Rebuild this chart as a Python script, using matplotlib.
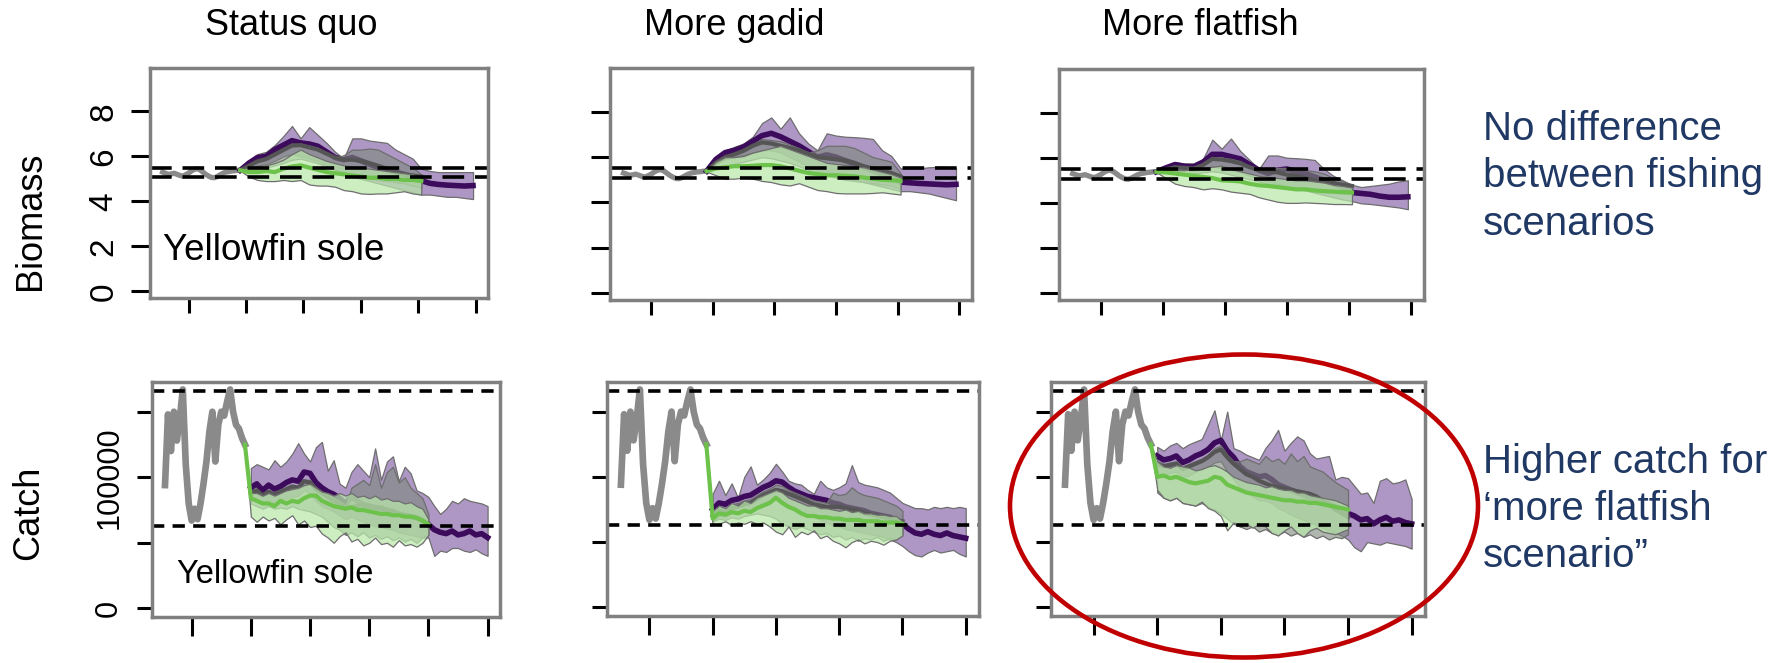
import numpy as np
import matplotlib
matplotlib.use("Agg")
import matplotlib.pyplot as plt
from matplotlib.patches import Ellipse
from matplotlib.colors import to_rgba
from matplotlib import font_manager

W, H, DPI = 1781, 663, 100
plt.rcParams['font.family'] = ['Liberation Sans', 'DejaVu Sans']

# ---------------------------------------------------------------- labels
COLUMN_TITLES = ["Status quo", "More gadid", "More flatfish"]
ROW_LABELS = ["Biomass", "Catch"]
SPECIES = "Yellowfin sole"
NOTE_BIOMASS = ["No difference", "between fishing", "scenarios"]
NOTE_CATCH = ["Higher catch for", "\u2018more flatfish", "scenario\u201d"]

# ---------------------------------------------------------------- axes
X_TICKS = [2000, 2020, 2040, 2060, 2080, 2100]
BIO_TICKS = [0, 2, 4, 6, 8]
BIO_TICK_LABELS = ["0", "2", "4", "6", "8"]
CATCH_TICKS = [0, 50000, 100000, 150000]
CATCH_TICK_LABELS = ["0", "", "100000", ""]
BIO_REF = [5.5, 5.08]
CATCH_REF = [166000, 63000]

# ---------------------------------------------------------------- years
HIST_YEARS = list(range(1991, 2019))
BIO_YEARS = list(range(2018, 2100, 3))          # purple runs to 2099
BIO_YEARS_SHORT = BIO_YEARS[:22]                 # gray / green end 2081
CATCH_YEARS_GREEN = list(range(2018, 2081, 2))
CATCH_YEARS_GRAY = list(range(2020, 2081, 2))
CATCH_YEARS_PURPLE = list(range(2020, 2101, 2))

# ---------------------------------------------------------------- history
BIO_HIST = [5.30, 5.25, 5.20, 5.22, 5.25, 5.20, 5.15, 5.12, 5.18, 5.25, 5.35, 5.42, 5.45, 5.40,
            5.30, 5.20, 5.12, 5.06, 5.05, 5.10, 5.18, 5.25, 5.30, 5.32, 5.35, 5.36, 5.38, 5.38]
CATCH_HIST_KT = [94, 148, 120, 150, 128, 145, 167, 110, 80, 67, 76, 68, 80, 95,
                 112, 135, 150, 112, 140, 150, 147, 158, 167, 150, 140, 137, 130, 125]

# ---------------------------------------------------------------- biomass: status quo
BIO_SQ_PURPLE_MID = [5.38, 5.70, 5.95, 6.00, 6.30, 6.50, 6.70, 6.60, 6.55, 6.45, 6.20, 5.95, 5.85, 5.95,
                     5.80, 5.65, 5.50, 5.40, 5.30, 5.20, 5.10, 4.92, 4.80, 4.75, 4.72, 4.70, 4.68, 4.70]
BIO_SQ_PURPLE_HI = [5.40, 5.80, 6.10, 6.20, 6.50, 6.90, 7.35, 6.80, 7.30, 6.95, 6.60, 6.20, 5.90, 6.80,
                    6.80, 6.70, 6.65, 6.60, 6.30, 6.10, 5.90, 5.45, 5.35, 5.30, 5.30, 5.30, 5.30, 5.30]
BIO_SQ_PURPLE_LO = [5.36, 5.50, 5.60, 5.65, 5.80, 6.00, 6.10, 6.00, 5.90, 5.80, 5.60, 5.40, 5.20, 5.10,
                    5.00, 4.90, 4.80, 4.70, 4.60, 4.50, 4.40, 4.30, 4.30, 4.25, 4.20, 4.20, 4.15, 4.10]
BIO_SQ_GRAY_MID = [5.38, 5.58, 5.78, 5.88, 6.08, 6.28, 6.48, 6.50, 6.40, 6.30, 6.12, 5.95, 5.85, 5.85,
                   5.80, 5.70, 5.58, 5.45, 5.30, 5.20, 5.15, 5.10]
BIO_SQ_GRAY_HI = [5.40, 5.62, 5.82, 5.92, 6.12, 6.32, 6.55, 6.55, 6.48, 6.38, 6.15, 5.95, 6.05, 6.30,
                  6.30, 6.35, 6.30, 6.10, 5.90, 5.70, 5.50, 5.20]
BIO_SQ_GRAY_LO = [5.36, 5.40, 5.45, 5.50, 5.60, 5.70, 5.85, 5.90, 5.80, 5.70, 5.55, 5.40, 5.30, 5.20,
                  5.10, 5.00, 4.95, 4.90, 4.85, 4.80, 4.70, 4.60]
BIO_SQ_GREEN_MID = [5.38, 5.30, 5.30, 5.35, 5.30, 5.45, 5.55, 5.60, 5.50, 5.40, 5.30, 5.25, 5.20, 5.15,
                    5.10, 5.05, 5.05, 5.00, 5.00, 4.95, 4.95, 4.90]
BIO_SQ_GREEN_HI = [5.40, 5.50, 5.55, 5.60, 5.70, 5.85, 6.10, 6.30, 6.10, 5.95, 5.80, 5.70, 5.60, 5.55,
                   5.50, 5.45, 5.40, 5.35, 5.30, 5.25, 5.20, 5.00]
BIO_SQ_GREEN_LO = [5.36, 5.10, 4.95, 4.90, 4.90, 4.95, 4.90, 4.95, 4.75, 4.70, 4.70, 4.65, 4.50, 4.45,
                   4.35, 4.33, 4.35, 4.35, 4.40, 4.45, 4.35, 4.30]

# ---------------------------------------------------------------- biomass: more gadid
BIO_GAD_PURPLE_MID = [5.38, 5.90, 6.20, 6.30, 6.45, 6.70, 6.95, 7.05, 6.90, 6.70, 6.50, 6.25, 6.00, 6.10,
                      6.00, 5.85, 5.70, 5.55, 5.40, 5.25, 5.10, 4.90, 4.87, 4.84, 4.82, 4.80, 4.78, 4.80]
BIO_GAD_PURPLE_HI = [5.40, 6.00, 6.30, 6.45, 6.60, 6.90, 7.50, 7.75, 7.25, 7.75, 7.05, 6.60, 6.30, 7.05,
                     6.95, 6.90, 6.88, 6.85, 6.80, 6.30, 6.05, 5.50, 5.50, 5.50, 5.55, 5.57, 5.57, 5.50]
BIO_GAD_PURPLE_LO = [5.36, 5.70, 5.90, 6.00, 6.10, 6.20, 6.30, 6.30, 6.20, 6.00, 5.80, 5.60, 5.40, 5.30,
                     5.20, 5.10, 5.00, 4.90, 4.80, 4.70, 4.60, 4.50, 4.50, 4.45, 4.40, 4.30, 4.20, 4.10]
BIO_GAD_GRAY_MID = [5.38, 5.75, 6.00, 6.12, 6.28, 6.50, 6.65, 6.60, 6.50, 6.40, 6.30, 6.15, 6.00, 5.95,
                    5.90, 5.85, 5.75, 5.60, 5.50, 5.40, 5.30, 5.15]
BIO_GAD_GRAY_HI = [5.40, 5.80, 6.05, 6.18, 6.32, 6.55, 6.80, 6.75, 6.70, 6.55, 6.40, 6.20, 6.30, 6.50,
                   6.50, 6.50, 6.40, 6.20, 6.00, 5.90, 5.80, 5.30]
BIO_GAD_GRAY_LO = [5.36, 5.50, 5.60, 5.70, 5.80, 5.90, 6.00, 5.95, 5.85, 5.75, 5.60, 5.45, 5.30, 5.20,
                   5.10, 5.00, 4.95, 4.90, 4.85, 4.80, 4.75, 4.60]
BIO_GAD_GREEN_MID = [5.38, 5.50, 5.55, 5.60, 5.60, 5.62, 5.65, 5.65, 5.60, 5.50, 5.40, 5.30, 5.25, 5.20,
                     5.20, 5.18, 5.15, 5.10, 5.05, 5.00, 4.98, 4.95]
BIO_GAD_GREEN_HI = [5.40, 5.80, 6.00, 6.00, 6.05, 6.20, 6.30, 6.40, 6.50, 6.35, 6.20, 6.05, 5.90, 5.75,
                    5.70, 5.65, 5.60, 5.55, 5.45, 5.35, 5.25, 5.10]
BIO_GAD_GREEN_LO = [5.36, 5.20, 5.05, 5.05, 5.10, 5.05, 4.95, 4.90, 4.80, 4.75, 4.85, 4.70, 4.55, 4.50,
                    4.42, 4.40, 4.40, 4.40, 4.42, 4.45, 4.40, 4.35]

# ---------------------------------------------------------------- biomass: more flatfish
BIO_FLAT_PURPLE_MID = [5.38, 5.55, 5.70, 5.62, 5.60, 5.80, 6.15, 6.15, 6.05, 5.95, 5.70, 5.45, 5.30, 5.45,
                       5.50, 5.40, 5.30, 5.15, 5.00, 4.85, 4.70, 4.46, 4.42, 4.38, 4.30, 4.25, 4.25, 4.27]
BIO_FLAT_PURPLE_HI = [5.40, 5.60, 5.80, 5.75, 5.75, 5.95, 6.80, 6.40, 6.85, 6.30, 5.90, 5.50, 6.10, 6.10,
                      6.00, 5.98, 5.95, 5.90, 5.50, 5.20, 5.00, 4.80, 4.70, 4.75, 4.80, 4.85, 4.95, 5.00]
BIO_FLAT_PURPLE_LO = [5.36, 5.45, 5.50, 5.45, 5.40, 5.50, 5.60, 5.55, 5.45, 5.35, 5.20, 5.05, 4.95, 4.85,
                      4.75, 4.65, 4.55, 4.45, 4.35, 4.25, 4.15, 4.08, 3.98, 3.95, 3.90, 3.85, 3.80, 3.72]
BIO_FLAT_GRAY_MID = [5.38, 5.48, 5.58, 5.55, 5.52, 5.68, 5.95, 5.92, 5.85, 5.75, 5.58, 5.45, 5.40, 5.35,
                     5.25, 5.20, 5.10, 5.00, 4.95, 4.88, 4.80, 4.75]
BIO_FLAT_GRAY_HI = [5.40, 5.50, 5.62, 5.58, 5.55, 5.72, 6.00, 6.00, 5.95, 5.85, 5.62, 5.48, 5.45, 5.55,
                    5.55, 5.50, 5.45, 5.40, 5.30, 5.10, 4.95, 4.80]
BIO_FLAT_GRAY_LO = [5.36, 5.40, 5.35, 5.30, 5.30, 5.35, 5.40, 5.35, 5.25, 5.15, 5.05, 4.95, 4.85, 4.80,
                    4.70, 4.65, 4.60, 4.55, 4.50, 4.45, 4.40, 4.40]
BIO_FLAT_GREEN_MID = [5.38, 5.35, 5.30, 5.25, 5.20, 5.15, 5.10, 5.00, 4.98, 4.95, 4.85, 4.78, 4.75, 4.70,
                      4.65, 4.60, 4.60, 4.55, 4.52, 4.50, 4.48, 4.46]
BIO_FLAT_GREEN_HI = [5.40, 5.45, 5.45, 5.45, 5.50, 5.55, 5.60, 5.65, 5.50, 5.40, 5.30, 5.20, 5.15, 5.10,
                     5.05, 5.00, 5.00, 4.95, 4.90, 4.80, 4.75, 4.68]
BIO_FLAT_GREEN_LO = [5.36, 5.10, 4.85, 4.75, 4.70, 4.60, 4.65, 4.60, 4.50, 4.45, 4.40, 4.25, 4.15, 4.05,
                     4.00, 4.00, 4.02, 4.00, 3.98, 3.95, 3.95, 3.94]

# ---------------------------------------------------------------- catch (thousand t): status quo
CATCH_SQ_PURPLE_MID = [92, 95, 90, 94, 91, 93, 96, 98, 97, 104, 103, 96, 92, 89, 87, 84, 80, 85, 82, 79, 78,
                       77, 76, 75, 74, 72, 71, 70, 69, 67, 64, 60, 58, 57, 59, 56, 57, 59, 56, 57, 54]
CATCH_SQ_PURPLE_HI = [107, 110, 108, 106, 113, 108, 112, 118, 126, 118, 112, 123, 127, 105, 113, 95, 92, 104,
                      110, 105, 100, 122, 98, 112, 116, 97, 108, 103, 90, 88, 85, 78, 72, 76, 82, 80, 84,
                      82, 81, 80, 78]
CATCH_SQ_PURPLE_LO = [82, 84, 80, 83, 80, 82, 84, 85, 86, 90, 88, 82, 78, 76, 74, 71, 68, 70, 68, 66, 64,
                      63, 62, 61, 60, 58, 57, 56, 55, 54, 54, 40, 44, 43, 46, 46, 44, 43, 45, 42, 40]
CATCH_SQ_GRAY_MID = [88, 90, 86, 89, 87, 89, 91, 93, 92, 97, 96, 91, 88, 85, 82, 80, 78, 77, 78, 79, 78,
                     77, 77, 75, 73, 72, 71, 70, 69, 67, 64]
CATCH_SQ_GRAY_HI = [88, 90, 86, 90, 88, 90, 92, 94, 93, 98, 98, 92, 88, 86, 84, 82, 78, 92, 95, 98, 94,
                    110, 92, 104, 108, 96, 100, 92, 88, 84, 72]
CATCH_SQ_GRAY_LO = [80, 78, 76, 78, 76, 77, 76, 78, 76, 75, 74, 72, 70, 66, 62, 60, 56, 58, 55, 58, 54,
                    56, 53, 55, 52, 54, 51, 53, 50, 54, 56]
CATCH_SQ_GREEN_MID = [125, 84, 82, 80, 80, 78, 82, 80, 82, 81, 84, 86, 86, 82, 80, 78, 77, 76, 77, 75, 75,
                      74, 73, 72, 72, 71, 71, 70, 70, 69, 67, 64]
CATCH_SQ_GREEN_HI = [125, 88, 88, 86, 88, 86, 88, 90, 91, 92, 94, 95, 92, 89, 88, 86, 88, 86, 88, 85, 86,
                     84, 86, 83, 84, 82, 82, 80, 81, 78, 76, 68]
CATCH_SQ_GREEN_LO = [125, 70, 66, 70, 67, 69, 64, 68, 71, 64, 67, 62, 63, 57, 54, 50, 55, 58, 51, 53, 48,
                     50, 54, 49, 50, 47, 52, 48, 49, 47, 50, 56]

# ---------------------------------------------------------------- catch (thousand t): more gadid
CATCH_GAD_PURPLE_MID = [75, 80, 79, 82, 83, 85, 86, 89, 92, 94, 97, 96, 92, 89, 87, 85, 84, 83, 82, 80, 79,
                        77, 76, 75, 74, 72, 71, 70, 69, 67, 64, 60, 57, 56, 58, 56, 55, 57, 55, 54, 53]
CATCH_GAD_PURPLE_HI = [87, 97, 86, 95, 84, 100, 108, 94, 98, 103, 110, 104, 97, 95, 94, 90, 87, 97, 92, 90,
                       92, 95, 109, 96, 94, 93, 92, 90, 88, 84, 80, 78, 76, 76, 75, 77, 76, 77, 76, 77, 76]
CATCH_GAD_PURPLE_LO = [66, 70, 69, 72, 73, 74, 75, 78, 80, 82, 84, 82, 78, 75, 73, 71, 69, 67, 65, 63, 62,
                       60, 59, 58, 57, 56, 55, 54, 52, 50, 47, 43, 40, 39, 42, 44, 42, 43, 44, 41, 39]
CATCH_GAD_GRAY_MID = [70, 74, 73, 76, 77, 79, 80, 83, 86, 88, 90, 89, 87, 85, 83, 81, 79, 78, 77, 77, 77,
                      76, 75, 74, 72, 71, 70, 69, 68, 67, 66]
CATCH_GAD_GRAY_HI = [72, 77, 76, 79, 80, 82, 83, 86, 89, 91, 94, 93, 90, 88, 86, 84, 82, 81, 80, 88, 86,
                     87, 92, 88, 86, 85, 84, 82, 80, 78, 74]
CATCH_GAD_GRAY_LO = [66, 68, 67, 69, 68, 70, 71, 72, 71, 70, 68, 64, 62, 60, 62, 60, 58, 56, 57, 54, 55,
                     52, 54, 51, 53, 52, 54, 51, 53, 52, 56]
CATCH_GAD_GREEN_MID = [125, 68, 72, 71, 73, 72, 74, 73, 76, 78, 80, 84, 80, 77, 75, 72, 70, 70, 69, 69, 68,
                       68, 67, 67, 67, 66, 66, 66, 65, 65, 65, 64]
CATCH_GAD_GREEN_HI = [125, 74, 78, 76, 80, 78, 82, 80, 84, 86, 88, 90, 88, 84, 82, 80, 78, 78, 76, 76, 75,
                      74, 75, 73, 74, 72, 72, 71, 71, 70, 70, 66]
CATCH_GAD_GREEN_LO = [125, 63, 64, 66, 63, 65, 64, 66, 64, 65, 62, 58, 56, 62, 54, 58, 56, 59, 53, 55, 51,
                      49, 46, 50, 52, 49, 51, 50, 48, 51, 52, 55]

# ---------------------------------------------------------------- catch (thousand t): more flatfish
CATCH_FLAT_PURPLE_MID = [116, 113, 114, 116, 111, 113, 116, 118, 121, 126, 128, 120, 115, 108, 104, 102, 100,
                         101, 98, 94, 92, 90, 88, 86, 84, 83, 81, 79, 77, 75, 72, 70, 67, 68, 64, 67, 69,
                         66, 67, 65, 64]
CATCH_FLAT_PURPLE_HI = [123, 120, 124, 126, 122, 125, 127, 129, 140, 151, 128, 150, 122, 120, 117, 115, 113,
                        122, 128, 136, 120, 126, 131, 128, 118, 114, 115, 116, 98, 100, 99, 93, 87, 88, 80,
                        97, 99, 95, 96, 98, 83]
CATCH_FLAT_PURPLE_LO = [104, 102, 103, 104, 100, 101, 104, 106, 108, 111, 112, 104, 98, 92, 88, 85, 82, 82,
                        80, 76, 74, 71, 69, 67, 65, 63, 61, 59, 57, 55, 52, 46, 43, 50, 49, 48, 50, 49,
                        48, 47, 45]
CATCH_FLAT_GRAY_MID = [110, 108, 109, 110, 106, 108, 110, 112, 115, 119, 121, 115, 110, 106, 102, 100, 97,
                       95, 93, 92, 91, 90, 89, 88, 87, 85, 82, 79, 75, 72, 69]
CATCH_FLAT_GRAY_HI = [112, 110, 111, 112, 108, 110, 112, 114, 117, 122, 124, 117, 112, 112, 114, 112, 110,
                      116, 112, 114, 110, 118, 112, 116, 108, 106, 104, 100, 96, 93, 90]
CATCH_FLAT_GRAY_LO = [88, 84, 82, 84, 80, 79, 78, 80, 77, 75, 72, 68, 64, 62, 60, 62, 58, 60, 57, 56, 58,
                      55, 57, 54, 56, 53, 55, 52, 54, 53, 56]
CATCH_FLAT_GREEN_MID = [125, 100, 101, 99, 100, 98, 96, 95, 96, 97, 100, 99, 94, 92, 90, 88, 87, 86, 85, 84,
                        83, 82, 82, 81, 81, 80, 80, 79, 78, 77, 76, 75]
CATCH_FLAT_GREEN_HI = [125, 112, 108, 107, 109, 108, 107, 105, 106, 108, 109, 107, 104, 100, 98, 96, 95, 94,
                       92, 93, 91, 90, 90, 88, 88, 86, 85, 84, 83, 82, 80, 78]
CATCH_FLAT_GREEN_LO = [125, 90, 84, 82, 84, 80, 79, 78, 81, 76, 74, 70, 59, 65, 62, 64, 61, 64, 62, 57, 55,
                       59, 62, 57, 54, 59, 61, 58, 57, 56, 58, 60]

# ---------------------------------------------------------------- styling
XLIM = (1986.6, 2104.2)
BIO_YLIM = (-0.3, 9.93)
CATCH_YLIM = (-6650, 172700)
FRAME_C = "#808080"
HIST_C = "#8a8a8a"
PURPLE_FILL = to_rgba("#9a7db7", 0.8)
GRAY_FILL = to_rgba("#7f8a7d", 0.62)
GREEN_FILL = to_rgba("#b9e8aa", 0.72)
EDGE_C = "#6e6e6e"
PURPLE_LINE = "#3c0b5b"
GRAY_LINE = "#555555"
GREEN_LINE = "#6cc24a"
NOTE_C = "#203864"
RING_C = "#C00000"

fig = plt.figure(figsize=(W / DPI, H / DPI), dpi=DPI)
fig.patch.set_facecolor("white")


def fx(x):
    return x / W


def fy(y):
    return 1 - y / H


def px_axes(left, top, right, bottom):
    return fig.add_axes([fx(left), fy(bottom), (right - left) / W, (bottom - top) / H])


def kt(values):
    return np.asarray(values, dtype=float) * 1000.0


def draw_panel(ax, hist, purple, purple_x, gray, gray_x, green, green_x, refs, dash, hist_lw):
    ax.plot(HIST_YEARS, hist, color=HIST_C, lw=hist_lw, solid_joinstyle="round", zorder=3)
    mid, lo, hi = purple
    ax.fill_between(purple_x, lo, hi, facecolor=PURPLE_FILL, edgecolor=EDGE_C, lw=0.9, zorder=4)
    ax.plot(purple_x, mid, color=PURPLE_LINE, lw=4.0, solid_joinstyle="round", zorder=5)
    mid, lo, hi = gray
    ax.fill_between(gray_x, lo, hi, facecolor=GRAY_FILL, edgecolor=EDGE_C, lw=0.9, zorder=6)
    ax.plot(gray_x, mid, color=GRAY_LINE, lw=3.0, solid_joinstyle="round", zorder=7)
    mid, lo, hi = green
    ax.fill_between(green_x, lo, hi, facecolor=GREEN_FILL, edgecolor=EDGE_C, lw=0.9, zorder=8)
    ax.plot(green_x, mid, color=GREEN_LINE, lw=3.0, solid_joinstyle="round", zorder=9)
    for r in refs:
        ax.axhline(r, color="black", lw=2.6, linestyle=(0, dash), zorder=10)


def style(ax, ylim, yticks, ylabels, ylen, xlen, lsize, lpad):
    ax.set_xlim(XLIM)
    ax.set_ylim(ylim)
    ax.set_xticks(X_TICKS)
    ax.set_xticklabels([])
    ax.set_yticks(yticks)
    if ylabels is None:
        ax.set_yticklabels([])
    else:
        ax.set_yticklabels(ylabels, rotation=90, va="center", fontsize=lsize)
    for sp in ax.spines.values():
        sp.set_color(FRAME_C)
        sp.set_linewidth(2.5)
        sp.set_zorder(12)
    ax.tick_params(axis="y", length=ylen, width=2.2, color="black", pad=lpad, direction="out")
    ax.tick_params(axis="x", length=xlen, width=2.2, color="black", direction="out")


bio_boxes = [(150, 68, 488, 298), (610, 68, 972, 300), (1059, 69, 1424, 300)]
catch_boxes = [(152, 382, 500, 617), (607, 382, 979, 616), (1051, 382, 1425, 616)]

bio_sets = [
    ((BIO_SQ_PURPLE_MID, BIO_SQ_PURPLE_LO, BIO_SQ_PURPLE_HI),
     (BIO_SQ_GRAY_MID, BIO_SQ_GRAY_LO, BIO_SQ_GRAY_HI),
     (BIO_SQ_GREEN_MID, BIO_SQ_GREEN_LO, BIO_SQ_GREEN_HI)),
    ((BIO_GAD_PURPLE_MID, BIO_GAD_PURPLE_LO, BIO_GAD_PURPLE_HI),
     (BIO_GAD_GRAY_MID, BIO_GAD_GRAY_LO, BIO_GAD_GRAY_HI),
     (BIO_GAD_GREEN_MID, BIO_GAD_GREEN_LO, BIO_GAD_GREEN_HI)),
    ((BIO_FLAT_PURPLE_MID, BIO_FLAT_PURPLE_LO, BIO_FLAT_PURPLE_HI),
     (BIO_FLAT_GRAY_MID, BIO_FLAT_GRAY_LO, BIO_FLAT_GRAY_HI),
     (BIO_FLAT_GREEN_MID, BIO_FLAT_GREEN_LO, BIO_FLAT_GREEN_HI)),
]
catch_sets = [
    ((CATCH_SQ_PURPLE_MID, CATCH_SQ_PURPLE_LO, CATCH_SQ_PURPLE_HI),
     (CATCH_SQ_GRAY_MID, CATCH_SQ_GRAY_LO, CATCH_SQ_GRAY_HI),
     (CATCH_SQ_GREEN_MID, CATCH_SQ_GREEN_LO, CATCH_SQ_GREEN_HI)),
    ((CATCH_GAD_PURPLE_MID, CATCH_GAD_PURPLE_LO, CATCH_GAD_PURPLE_HI),
     (CATCH_GAD_GRAY_MID, CATCH_GAD_GRAY_LO, CATCH_GAD_GRAY_HI),
     (CATCH_GAD_GREEN_MID, CATCH_GAD_GREEN_LO, CATCH_GAD_GREEN_HI)),
    ((CATCH_FLAT_PURPLE_MID, CATCH_FLAT_PURPLE_LO, CATCH_FLAT_PURPLE_HI),
     (CATCH_FLAT_GRAY_MID, CATCH_FLAT_GRAY_LO, CATCH_FLAT_GRAY_HI),
     (CATCH_FLAT_GREEN_MID, CATCH_FLAT_GREEN_LO, CATCH_FLAT_GREEN_HI)),
]

for i in range(3):
    ax = px_axes(*bio_boxes[i])
    pur, gry, grn = bio_sets[i]
    draw_panel(ax, BIO_HIST, pur, BIO_YEARS, gry, BIO_YEARS_SHORT, grn, BIO_YEARS_SHORT,
               BIO_REF, (6.0, 3.0), 3.8)
    style(ax, BIO_YLIM, BIO_TICKS, BIO_TICK_LABELS if i == 0 else None, 14, 11, 24, 8)

    ax = px_axes(*catch_boxes[i])
    pur, gry, grn = catch_sets[i]
    draw_panel(ax, kt(CATCH_HIST_KT),
               tuple(kt(v) for v in pur), CATCH_YEARS_PURPLE,
               tuple(kt(v) for v in gry), CATCH_YEARS_GRAY,
               tuple(kt(v) for v in grn), CATCH_YEARS_GREEN,
               CATCH_REF, (3.4, 2.3), 4.8)
    style(ax, CATCH_YLIM, CATCH_TICKS, CATCH_TICK_LABELS if i == 0 else None, 11, 14, 22, 9)

# column titles
for title, left in zip(COLUMN_TITLES, [205, 644, 1102]):
    fig.text(fx(left), fy(35), title, fontsize=26, ha="left", va="baseline")

# row labels
fig.text(fx(40), fy(221), ROW_LABELS[0], fontsize=26, rotation=90,
         rotation_mode="anchor", ha="center", va="baseline")
fig.text(fx(38), fy(513), ROW_LABELS[1], fontsize=26, rotation=90,
         rotation_mode="anchor", ha="center", va="baseline")

# species tags
fig.text(fx(163), fy(260), SPECIES, fontsize=26.5, ha="left", va="baseline")
names = {f.name for f in font_manager.fontManager.ttflist}
if "Liberation Sans Narrow" in names:
    fig.text(fx(177), fy(583), SPECIES, fontsize=26, ha="left", va="baseline",
             family=["Liberation Sans Narrow", "Liberation Sans"])
else:
    fig.text(fx(177), fy(583), SPECIES, fontsize=23.5, ha="left", va="baseline")

# side notes
for line, base in zip(NOTE_BIOMASS, [140, 187, 235]):
    fig.text(fx(1483), fy(base), line, fontsize=29, color=NOTE_C, ha="left", va="baseline")
for line, base in zip(NOTE_CATCH, [473, 520, 567]):
    fig.text(fx(1483), fy(base), line, fontsize=29, color=NOTE_C, ha="left", va="baseline")

# highlight ring around the flatfish catch panel
fig.add_artist(Ellipse((fx(1244), fy(506)), 468 / W, 303 / H, transform=fig.transFigure,
                       fill=False, edgecolor=RING_C, lw=3.3, zorder=20))

fig.savefig("out.png", dpi=DPI, facecolor="white")
